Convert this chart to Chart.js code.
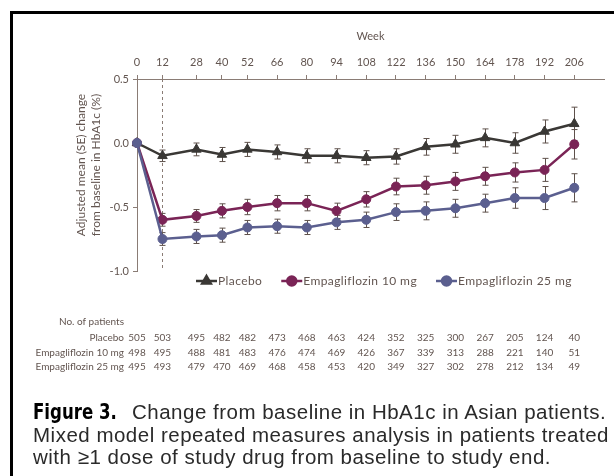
<!DOCTYPE html>
<html>
<head>
<meta charset="utf-8">
<script src="https://cdn.jsdelivr.net/npm/chart.js@4"></script>
<style>
  html, body { margin: 0; padding: 0; background: #fff; }
  #wrap { position: relative; width: 614px; height: 476px; overflow: hidden; }
  #frame { position: absolute; left: 10px; top: 11px; width: 620px; height: 480px;
           border-left: 3px solid #000; border-top: 3px solid #000; }
  canvas { position: absolute; left: 0; top: 0; }
  .cap { position: absolute; left: 33px; font-family: "Liberation Sans", Arial, sans-serif;
         font-size: 20.5px; letter-spacing: 0.5px; color: #2a2a2a; white-space: nowrap; line-height: 22px; }
  .fig { font-family: "Liberation Sans Narrow", "DejaVu Sans Condensed", sans-serif;
         font-weight: bold; color: #000; display: inline-block; width: 99px; letter-spacing: 0; }
  .fig span { display: inline-block; transform: scaleX(0.9); transform-origin: left center; }
</style>
</head>
<body>
<div id="wrap">
  <div id="frame"></div>
  <canvas id="chart" width="614" height="476"></canvas>
  <div class="cap" style="top:401px"><span class="fig"><span>Figure 3.</span></span>Change from baseline in HbA1c in Asian patients.</div>
  <div class="cap" style="top:424px">Mixed model repeated measures analysis in patients treated</div>
  <div class="cap" style="top:446px">with ≥1 dose of study drug from baseline to study end.</div>
</div>
<script>
const weeks = [0, 12, 28, 40, 52, 66, 80, 94, 108, 122, 136, 150, 164, 178, 192, 206];

const placeboMean = [0, -0.10, -0.05, -0.09, -0.05, -0.07, -0.10, -0.10, -0.115, -0.105, -0.03, -0.01, 0.04, 0.0, 0.09, 0.15];
const placeboSE   = [0, 0.045, 0.05, 0.055, 0.055, 0.055, 0.055, 0.055, 0.055, 0.06, 0.065, 0.07, 0.07, 0.08, 0.09, 0.13];
const empa10Mean  = [0, -0.60, -0.57, -0.53, -0.50, -0.47, -0.47, -0.53, -0.44, -0.34, -0.33, -0.30, -0.26, -0.23, -0.21, -0.01];
const empa10SE    = [0, 0.05, 0.05, 0.055, 0.06, 0.06, 0.06, 0.06, 0.06, 0.065, 0.07, 0.07, 0.07, 0.075, 0.09, 0.115];
const empa25Mean  = [0, -0.75, -0.73, -0.72, -0.66, -0.65, -0.66, -0.62, -0.60, -0.54, -0.53, -0.51, -0.47, -0.43, -0.43, -0.35];
const empa25SE    = [0, 0.05, 0.055, 0.055, 0.055, 0.055, 0.055, 0.055, 0.06, 0.065, 0.07, 0.07, 0.07, 0.08, 0.09, 0.11];

const placeboN = [505, 503, 495, 482, 482, 473, 468, 463, 424, 352, 325, 300, 267, 205, 124, 40];
const empa10N  = [498, 495, 488, 481, 483, 476, 474, 469, 426, 367, 339, 313, 288, 221, 140, 51];
const empa25N  = [495, 493, 479, 470, 469, 468, 458, 453, 420, 349, 327, 302, 278, 212, 134, 49];

const seriesNames = ['Placebo', 'Empagliflozin 10 mg', 'Empagliflozin 25 mg'];
const yTitle = ['Adjusted mean (SE) change', 'from baseline in HbA1c (%)'];

const COLORS = { placebo: '#3a3835', e10: '#7a2456', e25: '#5b5f8f', text: '#625550', axis: '#8a7c75', bar: '#5e514b' };
const FONT = 'Lato, "Open Sans", sans-serif';

const toXY = arr => arr.map((v, i) => ({ x: weeks[i], y: v }));

const errorBars = {
    id: 'errorBars',
    beforeDatasetsDraw(chart) {
        const { ctx, scales: { x, y }, chartArea } = chart;
        ctx.save();
        // dashed line at week 12
        ctx.strokeStyle = COLORS.axis;
        ctx.lineWidth = 1;
        ctx.setLineDash([3, 3]);
        const x12 = Math.round(x.getPixelForValue(12)) + 0.5;
        ctx.beginPath();
        ctx.moveTo(x12, chartArea.top);
        ctx.lineTo(x12, chartArea.bottom);
        ctx.stroke();
        ctx.setLineDash([]);

        ctx.strokeStyle = COLORS.bar;
        const sets = [[placeboMean, placeboSE], [empa10Mean, empa10SE], [empa25Mean, empa25SE]];
        sets.forEach(([m, se]) => {
            m.forEach((v, i) => {
                if (!se[i]) return;
                const px = Math.round(x.getPixelForValue(weeks[i])) + 0.5;
                const t = y.getPixelForValue(v + se[i]);
                const b = y.getPixelForValue(v - se[i]);
                ctx.beginPath();
                ctx.moveTo(px, t); ctx.lineTo(px, b);
                ctx.moveTo(px - 3, t); ctx.lineTo(px + 3, t);
                ctx.moveTo(px - 3, b); ctx.lineTo(px + 3, b);
                ctx.stroke();
            });
        });
        ctx.restore();
    }
};

const extras = {
    id: 'extras',
    afterDraw(chart) {
        const { ctx, scales: { x } } = chart;
        ctx.save();
        // y axis title
        ctx.fillStyle = COLORS.text;
        ctx.font = '12px ' + FONT;
        ctx.textAlign = 'center';
        ctx.textBaseline = 'middle';
        [81, 96].forEach((cx, k) => {
            ctx.save();
            ctx.translate(cx, 165);
            ctx.rotate(-Math.PI / 2);
            ctx.fillText(yTitle[k], 0, 0);
            ctx.restore();
        });

        // legend
        const colors = [COLORS.placebo, COLORS.e10, COLORS.e25];
        const styles = ['triangle', 'circle', 'circle'];
        let lx = 196;
        const ly = 281;
        ctx.font = '12px ' + FONT;
        ctx.letterSpacing = '0.4px';
        ctx.textAlign = 'left';
        seriesNames.forEach((name, k) => {
            ctx.strokeStyle = colors[k];
            ctx.fillStyle = colors[k];
            ctx.lineWidth = 2.5;
            ctx.beginPath();
            ctx.moveTo(lx, ly); ctx.lineTo(lx + 21, ly);
            ctx.stroke();
            Chart.helpers.drawPoint(ctx, { pointStyle: styles[k], radius: styles[k] === 'triangle' ? 5 : 4.5, borderWidth: 1 }, lx + 10.5, ly);
            ctx.fill();
            ctx.fillStyle = COLORS.text;
            ctx.fillText(name, lx + 22, ly + 0.5);
            lx += 22 + ctx.measureText(name).width + 19;
        });
        ctx.letterSpacing = '0px';

        // number of patients table
        ctx.font = '10px ' + FONT;
        ctx.fillStyle = COLORS.text;
        const rows = [['No. of patients', null, 322], ['Placebo', placeboN, 337.5], ['Empagliflozin 10 mg', empa10N, 352.5], ['Empagliflozin 25 mg', empa25N, 367]];
        rows.forEach(([label, vals, ry]) => {
            ctx.textAlign = 'right';
            ctx.fillText(label, 124, ry);
            if (!vals) return;
            ctx.textAlign = 'center';
            vals.forEach((n, i) => ctx.fillText(String(n), x.getPixelForValue(weeks[i]), ry));
        });
        ctx.restore();
    }
};

const ds = (label, data, color, style, order) => ({
    label, data: toXY(data), borderColor: color, backgroundColor: color,
    borderWidth: 2.5, pointStyle: style, pointRadius: style === 'triangle' ? 5.5 : 4.5,
    pointBorderWidth: 1, pointHoverRadius: 5, tension: 0, fill: false, clip: false, order
});

new Chart(document.getElementById('chart').getContext('2d'), {
    type: 'line',
    data: {
        datasets: [
            ds(seriesNames[0], placeboMean, COLORS.placebo, 'triangle', 2),
            ds(seriesNames[1], empa10Mean, COLORS.e10, 'circle', 1),
            ds(seriesNames[2], empa25Mean, COLORS.e25, 'circle', 0)
        ]
    },
    options: {
        responsive: false,
        animation: false,
        events: [],
        layout: { padding: { top: 26, left: 0, right: 10, bottom: 205 } },
        plugins: { legend: { display: false }, tooltip: { enabled: false } },
        scales: {
            x: {
                type: 'linear',
                position: 'top',
                min: 0,
                max: 220,
                afterBuildTicks: scale => { scale.ticks = weeks.map(v => ({ value: v })); },
                afterFit: scale => { scale.height = 79 - 26; },
                ticks: { color: COLORS.text, font: { family: FONT, size: 11 }, padding: 6, maxRotation: 0, autoSkip: false,
                         callback: v => String(v) },
                grid: { drawOnChartArea: false, tickLength: 4, color: COLORS.axis },
                border: { color: COLORS.axis },
                title: { display: true, text: 'Week', color: COLORS.text, font: { family: FONT, size: 11 }, padding: { top: 4, bottom: 4 } }
            },
            y: {
                min: -1,
                max: 0.5,
                afterFit: scale => { scale.width = 137; },
                ticks: { stepSize: 0.5, color: COLORS.text, font: { family: FONT, size: 11 }, padding: 4,
                         callback: v => v.toFixed(1) },
                grid: { drawOnChartArea: false, tickLength: 4, color: COLORS.axis },
                border: { color: COLORS.axis }
            }
        }
    },
    plugins: [errorBars, extras]
});
</script>
</body>
</html>
